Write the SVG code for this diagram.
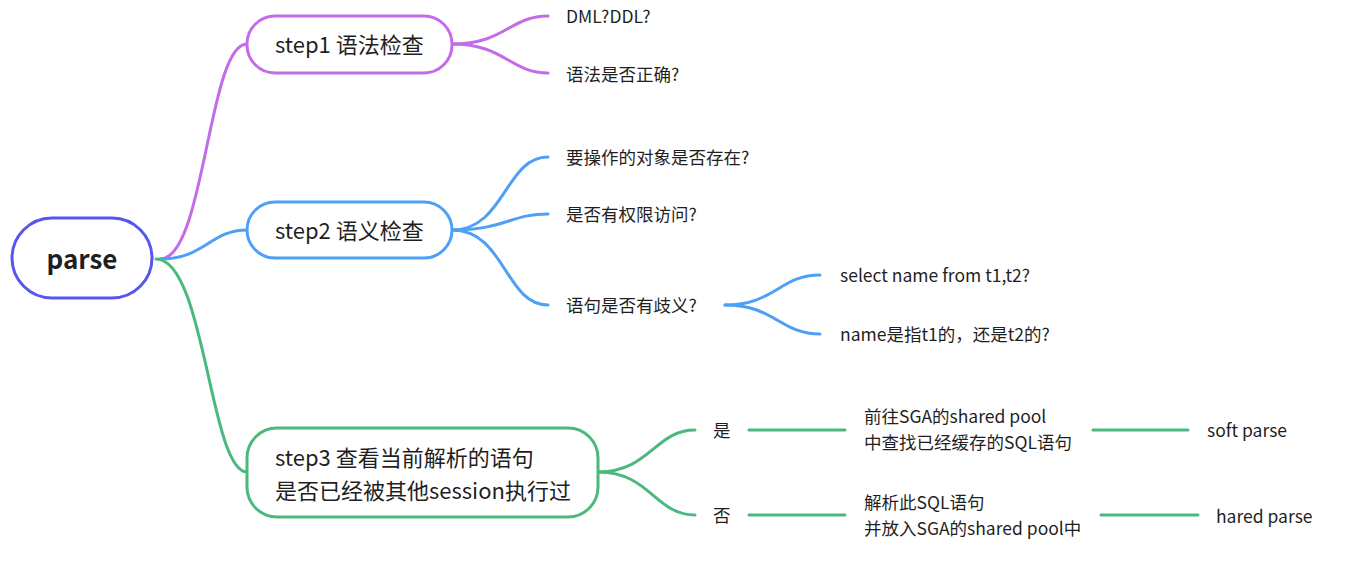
<svg xmlns="http://www.w3.org/2000/svg" width="1345" height="572" viewBox="0 0 1345 572">
<style>
text{font-family:"Noto Sans CJK SC","Source Han Sans SC","Noto Sans",sans-serif;fill:#1f1f1f;dominant-baseline:central}
.leaf{font-size:17.5px}
.box{font-size:22px}
.c{fill:none;stroke-width:3;stroke-linecap:round}
.p{stroke:#C46BE9}
.b{stroke:#4DA0F5}
.g{stroke:#4BB87D}
.n{fill:#fff;stroke-width:3}
</style>
<rect width="1345" height="572" fill="#fff"/>
<g id="connectors">
<path class="c p" d="M160 259 C205 259 208 44 247 44"/>
<path class="c b" d="M160 259 C205 259 210 230 247 230"/>
<path class="c g" d="M156 259 C205 259 210 472 247 472"/>
<path class="c p" d="M452 44 C505 44 510 16 548 16"/>
<path class="c p" d="M452 44 C505 44 510 73 548 73"/>
<path class="c b" d="M452 230 C505 230 505 157 548 157"/>
<path class="c b" d="M452 230 C505 230 510 214 548 214"/>
<path class="c b" d="M452 230 C505 230 505 305 548 305"/>
<path class="c b" d="M725 305 C775 305 780 275 820 275"/>
<path class="c b" d="M725 305 C775 305 780 334 820 334"/>
<path class="c g" d="M598 472 C650 472 655 430 695 430"/>
<path class="c g" d="M598 472 C650 472 655 515 695 515"/>
<path class="c g" d="M749 430 H845"/>
<path class="c g" d="M1093 430 H1188"/>
<path class="c g" d="M749 515 H845"/>
<path class="c g" d="M1101 515 H1198"/>
</g>
<g id="root">
<rect class="n" x="12" y="218" width="140" height="80" rx="40" stroke="#5757F0"/>
<text x="82" y="257" text-anchor="middle" style="font-size:26px;font-weight:bold">parse</text>
</g>
<g id="step1">
<rect class="n p" x="247" y="16" width="205" height="57" rx="28"/>
<text class="box" x="275" y="43">step1 语法检查</text>
</g>
<g id="step2">
<rect class="n b" x="247" y="202" width="205" height="56" rx="28"/>
<text class="box" x="275" y="229">step2 语义检查</text>
</g>
<g id="step3">
<rect class="n g" x="247" y="428" width="351" height="89" rx="30"/>
<text class="box" x="275" y="456">step3 查看当前解析的语句</text>
<text class="box" x="275" y="489">是否已经被其他session执行过</text>
</g>
<g id="leaf-dml"><text class="leaf" x="566" y="15">DML?DDL?</text></g>
<g id="leaf-syntax"><text class="leaf" x="566" y="73">语法是否正确?</text></g>
<g id="leaf-exist"><text class="leaf" x="566" y="156">要操作的对象是否存在?</text></g>
<g id="leaf-perm"><text class="leaf" x="566" y="213">是否有权限访问?</text></g>
<g id="leaf-ambig"><text class="leaf" x="566" y="304">语句是否有歧义?</text></g>
<g id="leaf-select"><text class="leaf" x="840" y="274">select name from t1,t2?</text></g>
<g id="leaf-name"><text class="leaf" x="840" y="333">name是指t1的，还是t2的?</text></g>
<g id="yes"><text class="leaf" x="713" y="429">是</text></g>
<g id="no"><text class="leaf" x="713" y="514">否</text></g>
<g id="goto"><text class="leaf" x="864" y="415">前往SGA的shared pool</text><text class="leaf" x="864" y="441">中查找已经缓存的SQL语句</text></g>
<g id="parse-sql"><text class="leaf" x="864" y="501">解析此SQL语句</text><text class="leaf" x="864" y="527">并放入SGA的shared pool中</text></g>
<g id="soft"><text class="leaf" x="1207" y="429">soft parse</text></g>
<g id="hard"><text class="leaf" x="1216" y="515">hared parse</text></g>
</svg>
